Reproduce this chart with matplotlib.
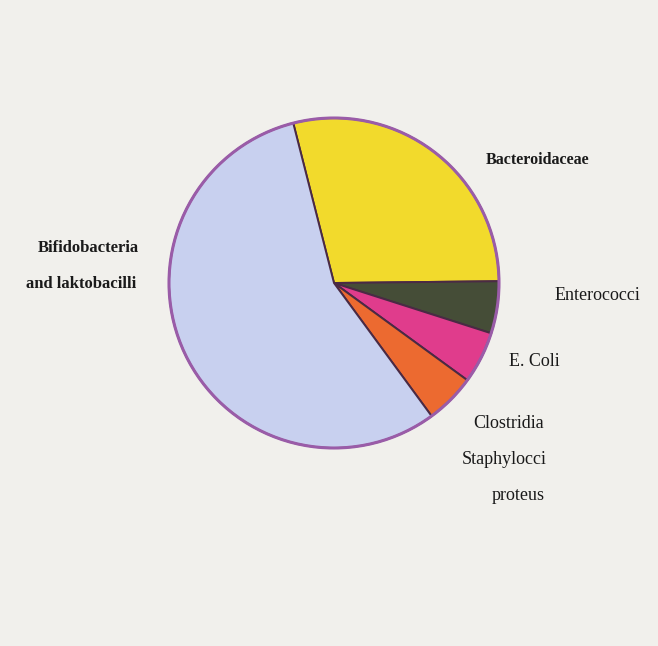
import matplotlib
matplotlib.use("Agg")
import matplotlib.pyplot as plt
from matplotlib.patches import Circle

# slices, clockwise from the top boundary
labels = ["Bacteroidaceae", "Enterococci", "E. Coli",
          "Clostridia\nStaphylocci\nproteus", "Bifidobacteria\nand laktobacilli"]
shares = [28.8, 5.1, 5.1, 4.9, 56.1]
colors = ["#f2da2c", "#454d37", "#e03c8c", "#ec6a30", "#c8d0ef"]

W, H = 658, 646
fig = plt.figure(figsize=(W / 100, H / 100), dpi=100)
fig.patch.set_facecolor("#f1f0ec")
ax = fig.add_axes([0, 0, 1, 1])
ax.set_facecolor("#f1f0ec")

cx, cy, r = 334, H - 283, 165
ax.pie(shares, colors=colors, startangle=104.3, counterclock=False,
       center=(cx, cy), radius=r,
       wedgeprops=dict(edgecolor="#4a2a44", linewidth=1.4))
ax.add_patch(Circle((cx, cy), r, fill=False, edgecolor="#9a5ca8", linewidth=2.2))

ax.set_xlim(0, W)
ax.set_ylim(0, H)
ax.set_aspect("equal")
ax.axis("off")

font = dict(family="Liberation Serif", color="#1a1a1a", ha="center", va="center")
ax.text(538, H - 160, "Bacteroidaceae", fontweight="bold", fontsize=11.5, **font)
ax.text(88, H - 248, "Bifidobacteria", fontweight="bold", fontsize=12, **font)
ax.text(81, H - 284, "and laktobacilli", fontweight="bold", fontsize=12, **font)
ax.text(597, H - 296, "Enterococci", fontsize=13, **font)
ax.text(534, H - 362, "E. Coli", fontsize=13, **font)
ax.text(509, H - 424, "Clostridia", fontsize=13, **font)
ax.text(504, H - 460, "Staphylocci", fontsize=13, **font)
ax.text(518, H - 496, "proteus", fontsize=13, **font)

fig.savefig("out.png", dpi=100, facecolor=fig.get_facecolor())
